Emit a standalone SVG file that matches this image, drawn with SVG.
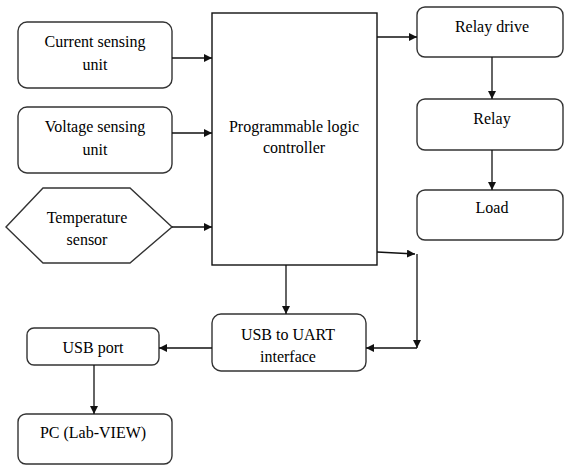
<svg xmlns="http://www.w3.org/2000/svg" width="564" height="466" viewBox="0 0 564 466">
<defs>
<style>
.box{fill:#fff;stroke:#333;stroke-width:1.4}
.c{fill:none;stroke:#111;stroke-width:1.3}
</style>
<marker id="ah" viewBox="0 0 10 10" refX="10" refY="5" markerWidth="8" markerHeight="8" markerUnits="userSpaceOnUse" orient="auto">
<path d="M0,0 L10,5 L0,10 z" fill="#111"/>
</marker>
</defs>
<rect width="564" height="466" fill="#fff"/>
<g id="current">
<rect class="box" x="18" y="22" width="154" height="66" rx="9"/>
<text x="95" y="47" font-family="Liberation Serif" font-size="16" text-anchor="middle">Current sensing</text>
<text x="95" y="70" font-family="Liberation Serif" font-size="16" text-anchor="middle">unit</text>
</g>
<g id="voltage">
<rect class="box" x="18" y="107" width="154" height="66" rx="9"/>
<text x="95" y="132" font-family="Liberation Serif" font-size="16" text-anchor="middle">Voltage sensing</text>
<text x="95" y="155" font-family="Liberation Serif" font-size="16" text-anchor="middle">unit</text>
</g>
<g id="temperature">
<polygon class="box" points="6,227 43,188 130,188 172,227 130,263 43,263"/>
<text x="87" y="223" font-family="Liberation Serif" font-size="16" text-anchor="middle">Temperature</text>
<text x="87" y="245" font-family="Liberation Serif" font-size="16" text-anchor="middle">sensor</text>
</g>
<g id="plc">
<rect x="212" y="13" width="165" height="252" fill="#fff" stroke="#111" stroke-width="1.4"/>
<text x="294" y="132" font-family="Liberation Serif" font-size="16" text-anchor="middle">Programmable logic</text>
<text x="294" y="153" font-family="Liberation Serif" font-size="16" text-anchor="middle">controller</text>
</g>
<g id="relaydrive">
<rect class="box" x="417" y="7" width="146" height="50" rx="8"/>
<text x="492" y="32" font-family="Liberation Serif" font-size="16" text-anchor="middle">Relay drive</text>
</g>
<g id="relay">
<rect class="box" x="417" y="99" width="146" height="51" rx="8"/>
<text x="492" y="124" font-family="Liberation Serif" font-size="16" text-anchor="middle">Relay</text>
</g>
<g id="load">
<rect class="box" x="417" y="190" width="146" height="50" rx="8"/>
<text x="492" y="213" font-family="Liberation Serif" font-size="16" text-anchor="middle">Load</text>
</g>
<g id="usbuart">
<rect class="box" x="212" y="314" width="154" height="57" rx="9"/>
<text x="288" y="340" font-family="Liberation Serif" font-size="16" text-anchor="middle">USB to UART</text>
<text x="288" y="362" font-family="Liberation Serif" font-size="16" text-anchor="middle">interface</text>
</g>
<g id="usbport">
<rect class="box" x="27" y="328" width="132" height="37" rx="7"/>
<text x="93" y="353" font-family="Liberation Serif" font-size="16" text-anchor="middle">USB port</text>
</g>
<g id="pc">
<rect class="box" x="18" y="414" width="154" height="50" rx="8"/>
<text x="93" y="438" font-family="Liberation Serif" font-size="16" text-anchor="middle">PC (Lab-VIEW)</text>
</g>
<g id="connectors">
<line class="c" x1="172" y1="58" x2="212" y2="58" marker-end="url(#ah)"/>
<line class="c" x1="172" y1="133" x2="212" y2="133" marker-end="url(#ah)"/>
<line class="c" x1="172" y1="227" x2="212" y2="227" marker-end="url(#ah)"/>
<line class="c" x1="377" y1="37" x2="417" y2="37" marker-end="url(#ah)"/>
<line class="c" x1="492" y1="57" x2="492" y2="99" marker-end="url(#ah)"/>
<line class="c" x1="492" y1="150" x2="492" y2="190" marker-end="url(#ah)"/>
<line class="c" x1="377" y1="252" x2="415" y2="254" marker-end="url(#ah)"/>
<line class="c" x1="417" y1="254" x2="417" y2="348" marker-end="url(#ah)"/>
<line class="c" x1="417" y1="348" x2="366" y2="348" marker-end="url(#ah)"/>
<line class="c" x1="286" y1="265" x2="286" y2="314" marker-end="url(#ah)"/>
<line class="c" x1="212" y1="348" x2="159" y2="348" marker-end="url(#ah)"/>
<line class="c" x1="94" y1="365" x2="94" y2="414" marker-end="url(#ah)"/>
</g>
</svg>
